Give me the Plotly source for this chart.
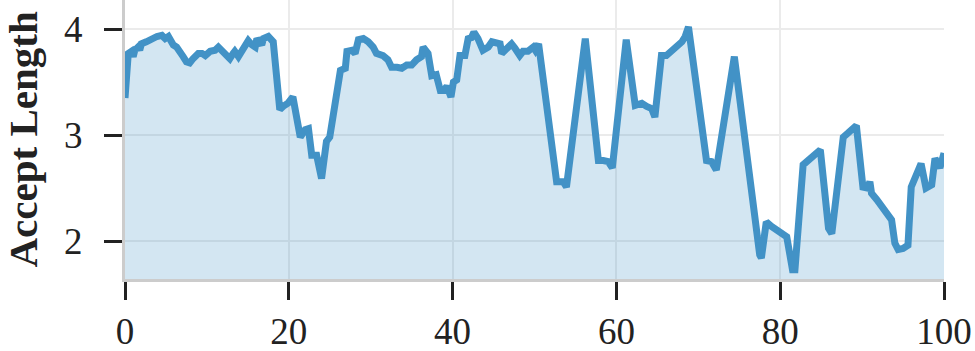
import plotly.graph_objects as go

progress = [0, 0.4, 0.8, 1.0, 1.2, 1.6, 1.8, 2.0, 2.6, 3.3, 3.9, 4.5, 4.9, 5.3, 5.9, 6.3, 6.7, 7.1, 7.5, 7.9,
            8.3, 8.95, 9.4, 9.8, 10.4, 11.0, 11.4, 11.8, 12.4, 12.8, 13.2, 13.4, 13.85, 14.25, 14.65, 15.05,
            15.5, 15.9, 16.1, 16.7, 16.9, 17.5, 18.1, 18.9, 19.3, 19.9, 20.5, 21.4, 22.0, 22.4, 22.8, 23.4,
            24.0, 24.6, 25.0, 26.3, 26.9, 27.1, 27.7, 28.1, 28.5, 29.1, 29.7, 30.3, 30.7, 31.5, 32.1, 32.55,
            33.2, 33.8, 34.4, 35.0, 35.6, 36.2, 36.4, 36.8, 37.0, 37.45, 38.0, 38.5, 38.9, 39.3, 39.8, 40.1,
            40.5, 40.9, 41.5, 41.9, 42.3, 42.6, 43.1, 43.7, 44.35, 44.8, 45.4, 45.8, 46.0, 46.6, 47.2, 47.6,
            48.2, 48.6, 49.2, 49.85, 50.1, 50.5, 52.7, 53.5, 53.9, 56.2, 57.8, 58.4, 59.0, 59.5, 61.2, 62.3,
            63.1, 63.7, 64.3, 64.7, 65.5, 66.1, 66.7, 67.3, 68.0, 68.4, 68.8, 71.0, 71.6, 72.2, 74.4, 77.5,
            77.7, 78.3, 78.9, 80.8, 81.5, 81.8, 82.8, 84.9, 85.9, 86.3, 87.7, 88.3, 89.3, 90.1, 90.7, 90.95,
            91.15, 91.8, 92.4, 93.0, 93.6, 94.0, 94.4, 95.0, 95.6, 96.0, 96.6, 97.2, 97.8, 98.5, 98.9, 99.5, 100]

accept_length = [3.35, 3.77, 3.79, 3.74, 3.80, 3.83, 3.80, 3.86, 3.88, 3.91, 3.93, 3.94, 3.91, 3.93, 3.85, 3.83,
                 3.77, 3.74, 3.69, 3.68, 3.72, 3.77, 3.77, 3.75, 3.79, 3.80, 3.83, 3.80, 3.77, 3.72, 3.77, 3.79,
                 3.74, 3.79, 3.85, 3.89, 3.85, 3.83, 3.91, 3.85, 3.91, 3.93, 3.88, 3.24, 3.27, 3.30, 3.36, 2.98,
                 3.05, 3.06, 2.81, 2.81, 2.59, 2.94, 2.98, 3.61, 3.63, 3.79, 3.80, 3.77, 3.90, 3.91, 3.88, 3.83,
                 3.77, 3.75, 3.71, 3.64, 3.64, 3.63, 3.66, 3.66, 3.71, 3.74, 3.83, 3.77, 3.77, 3.56, 3.57, 3.42,
                 3.42, 3.46, 3.36, 3.50, 3.52, 3.75, 3.75, 3.91, 3.92, 3.97, 3.91, 3.80, 3.83, 3.88, 3.86, 3.86,
                 3.77, 3.82, 3.86, 3.82, 3.75, 3.79, 3.79, 3.83, 3.80, 3.86, 2.56, 2.56, 2.51, 3.91, 2.76, 2.76,
                 2.75, 2.69, 3.90, 3.28, 3.30, 3.27, 3.25, 3.17, 3.75, 3.75, 3.79, 3.85, 3.88, 3.93, 4.02, 2.76,
                 2.75, 2.67, 3.74, 1.87, 1.84, 2.18, 2.14, 2.04, 1.73, 1.73, 2.72, 2.86, 2.12, 2.07, 2.98, 3.02,
                 3.09, 2.51, 2.50, 2.56, 2.45, 2.39, 2.32, 2.26, 2.20, 1.98, 1.92, 1.93, 1.96, 2.51, 2.62, 2.73,
                 2.50, 2.53, 2.78, 2.69, 2.83]

x_ticks = [0, 20, 40, 60, 80, 100]
y_ticks = [2, 3, 4]
y_title = "Accept Length"

fig = go.Figure()
fig.add_trace(go.Scatter(
    x=progress, y=accept_length, mode="lines",
    line=dict(color="#4292c6", width=7),
    fill="tozeroy", fillcolor="rgba(66,146,198,0.23)",
    hoverinfo="skip", showlegend=False,
))

font_family = "Liberation Serif"
L, R, T, B = 125, 31, 0, 72
plot_w = 975 - L - R
fig.update_layout(
    width=975, height=351,
    margin=dict(l=L, r=R, t=T, b=B),
    plot_bgcolor="white", paper_bgcolor="white",
    font=dict(family=font_family, size=36, color="#222222"),
    xaxis=dict(
        range=[0, 100], tickvals=x_ticks, ticks="outside", ticklen=18, tickwidth=3,
        tickcolor="#222222", showline=True, linecolor="#cccccc", linewidth=3,
        showgrid=True, gridcolor="#ebebeb", gridwidth=2, zeroline=False,
        tickfont=dict(family=font_family, size=37, color="#222222"),
    ),
    yaxis=dict(
        range=[1.642, 4.274], tickvals=y_ticks, ticks="outside", ticklen=18, tickwidth=3,
        tickcolor="#222222", showline=True, linecolor="#cccccc", linewidth=3,
        showgrid=True, gridcolor="#ebebeb", gridwidth=2, zeroline=False,
        ticklabelstandoff=14,
        tickfont=dict(family=font_family, size=37, color="#222222"),
    ),
    annotations=[dict(
        text="<b>" + y_title + "</b>", textangle=-90,
        xref="paper", yref="paper", x=-(L - 22) / plot_w, y=0.5,
        xanchor="center", yanchor="middle", showarrow=False,
        font=dict(family=font_family, size=41, color="#222222"),
    )],
)

fig.write_html("out.html")
